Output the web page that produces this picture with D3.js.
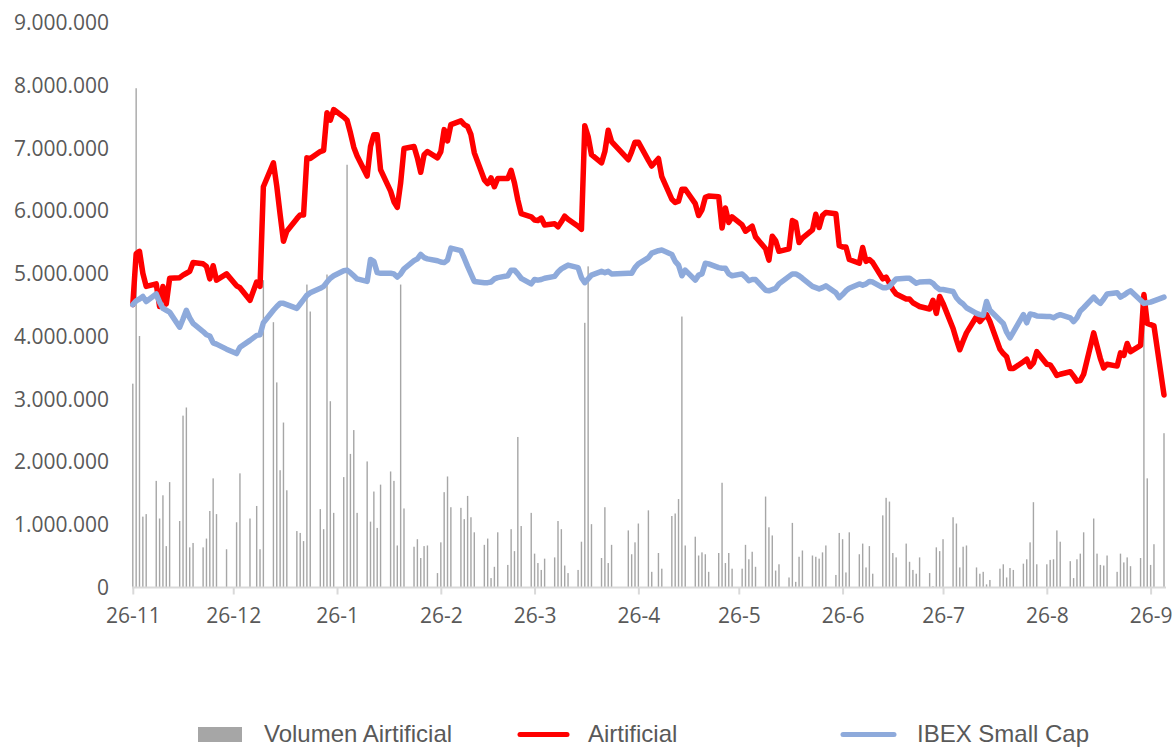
<!DOCTYPE html>
<html>
<head>
<meta charset="utf-8">
<script src="https://cdn.jsdelivr.net/npm/d3@7"></script>
<style>
  body { margin: 0; background: #fff; }
</style>
</head>
<body>
<svg id="chart"></svg>
<script>
// trading days 26-11-2018 .. 30-09-2019 (weekdays minus market holidays)
var firstDay = '2018-11-26'
var lastDay = '2019-09-30'
var holidays = ['2018-12-25', '2018-12-26', '2019-01-01', '2019-04-19', '2019-04-22', '2019-05-01']

// millions
var volumen = [
  3.25, 7.96, 4.01, 1.13, 1.17,
  1.70, 1.10, 1.47, 0.66, 1.68,
  1.06, 2.74, 2.87, 0.64, 0.71,
  0.64, 0.78, 1.22, 1.74, 1.17,
  0.61, 1.04, 1.82,
  1.10, 1.30, 0.61, 4.90,
  4.23, 3.27, 1.87, 2.63, 1.55,
  0.90, 0.87, 0.74, 4.83, 4.40,
  1.25, 0.93, 4.99, 2.97, 1.19,
  1.76, 6.74, 2.13, 2.51, 1.19,
  2.01, 1.05, 1.53, 0.95, 1.64,
  1.85, 1.70, 0.67, 4.83, 1.26,
  0.65, 0.77, 0.47, 0.66, 0.67,
  0.23, 0.72, 1.52, 1.77, 1.28,
  1.27, 1.09, 1.46, 1.12, 0.88,
  0.68, 0.78, 0.15, 0.33, 0.88,
  0.36, 0.93, 0.58, 2.40, 0.98,
  1.19, 0.54, 0.39, 0.28, 0.46,
  0.48, 1.06, 0.93, 0.35, 0.23,
  0.28, 0.73, 4.22, 5.12, 1.01,
  0.47, 1.28, 0.39, 0.68,
  0.91, 0.53, 0.72, 1.02,
  1.23, 0.25, 0.55, 0.30,
  1.14, 1.18, 1.41, 4.32, 0.67,
  0.81, 0.51, 0.56, 0.53, 0.25,
  0.55, 1.67, 0.39, 0.55, 0.30,
  0.30, 0.68, 0.45, 0.57, 0.33,
  1.45, 0.96, 0.83, 0.27, 0.37,
  0.16, 1.03, 0.09, 0.49, 0.59,
  0.51, 0.49, 0.46, 0.56, 0.67,
  0.20, 0.87, 0.77, 0.24, 0.88,
  0.53, 0.70, 0.32, 0.66, 0.22,
  1.15, 1.43, 1.37, 0.55, 0.48,
  0.70, 0.41, 0.28, 0.22, 0.48,
  0.23, 0.02, 0.64, 0.58, 0.77,
  1.12, 1.02, 0.32, 0.65, 0.67,
  0.32, 0.22, 0.25, 0.05, 0.12,
  0.30, 0.37, 0.16, 0.31, 0.28,
  0.38, 0.45, 0.72, 1.36, 0.37,
  0.37, 0.44, 0.45, 0.91, 0.73,
  0.42, 0.15, 0.45, 0.54, 0.88,
  1.10, 0.54, 0.36, 0.35, 0.51,
  0.25, 0.54, 0.40, 0.48, 0.34,
  0.47, 4.65, 1.74, 0.36, 0.69,
  2.46
]

var airtificial = [
  4.51, 5.32, 5.36, 5.01, 4.80,
  4.84, 4.48, 4.80, 4.52, 4.93,
  4.94, 4.98, 5.01, 5.04, 5.18,
  5.16, 5.12, 4.92, 5.13, 4.90,
  5.00, 4.81, 4.78,
  4.58, 4.87, 4.80, 6.39,
  6.77, 6.40, 5.95, 5.52, 5.68,
  5.88, 5.94, 5.94, 6.85, 6.84,
  6.95, 6.97, 7.57, 7.45, 7.62,
  7.50, 7.45, 7.25, 7.02, 6.88,
  6.56, 7.03, 7.22, 7.22, 6.66,
  6.32, 6.15, 6.06, 6.45, 7.00,
  7.03, 6.85, 6.62, 6.90, 6.95,
  6.85, 6.95, 7.30, 7.12, 7.38,
  7.44, 7.38, 7.35, 7.22, 6.93,
  6.50, 6.44, 6.53, 6.39, 6.52,
  6.52, 6.65, 6.45, 6.18, 5.96,
  5.91, 5.86, 5.85, 5.89, 5.78,
  5.80, 5.75, 5.83, 5.92, 5.87,
  5.76, 5.71, 7.36, 7.19, 6.90,
  6.77, 6.95, 7.29, 7.11,
  6.82, 6.95, 7.10, 7.10,
  6.81, 6.72, 6.84, 6.55,
  6.19, 6.14, 6.16, 6.35, 6.35,
  6.12, 5.93, 6.02, 6.22, 6.24,
  6.23, 5.73, 6.05, 5.82, 5.91,
  5.78, 5.68, 5.72, 5.76, 5.59,
  5.40, 5.22, 5.60, 5.53, 5.36,
  5.40, 5.85, 5.82, 5.50, 5.57,
  5.70, 5.95, 5.74, 5.93, 5.98,
  5.96, 5.45, 5.43, 5.43, 5.23,
  5.17, 5.42, 5.20, 5.23, 5.18,
  4.92, 4.95, 4.85, 4.75, 4.68,
  4.60, 4.60, 4.54, 4.51, 4.48,
  4.44, 4.58, 4.37, 4.64, 4.53,
  4.13, 3.95, 3.79, 3.93, 4.06,
  4.32, 4.24, 4.30, 4.35, 4.24,
  3.80, 3.73, 3.68, 3.49, 3.49,
  3.60, 3.64, 3.52, 3.58, 3.76,
  3.56, 3.55, 3.47, 3.38, 3.40,
  3.44, 3.37, 3.29, 3.30, 3.40,
  4.06, 3.85, 3.65, 3.50, 3.56,
  3.53, 3.74, 3.70, 3.89, 3.76,
  3.86, 4.67, 4.21, 4.19, 4.17,
  3.07
]

var ibexSmallCap = [
  4.51, 4.57, 4.60, 4.64, 4.56,
  4.68, 4.55, 4.45, 4.42, 4.39,
  4.15, 4.28, 4.42, 4.30, 4.21,
  4.08, 4.03, 4.01, 3.90, 3.88,
  3.80, 3.73, 3.83,
  3.94, 4.02, 4.03, 4.22,
  4.42, 4.48, 4.53, 4.53, 4.51,
  4.45, 4.52, 4.59, 4.66, 4.70,
  4.77, 4.80, 4.87, 4.93, 4.97,
  5.05, 5.06, 5.02, 4.97, 4.92,
  4.88, 5.23, 5.20, 5.02, 5.01,
  5.01, 5.00, 4.95, 5.00, 5.08,
  5.21, 5.24, 5.31, 5.26, 5.24,
  5.21, 5.19, 5.18, 5.22, 5.41,
  5.37, 5.25, 5.12, 5.00, 4.88,
  4.86, 4.86, 4.87, 4.92, 4.94,
  4.97, 5.06, 5.06, 5.00, 4.93,
  4.84, 4.91, 4.90, 4.91, 4.93,
  4.96, 5.03, 5.08, 5.11, 5.14,
  5.10, 4.94, 4.86, 4.92, 4.98,
  5.04, 5.02, 5.04, 5.00,
  5.01, 5.01, 5.10, 5.16,
  5.26, 5.33, 5.37, 5.38,
  5.31, 5.20, 5.14, 4.97, 5.06,
  4.90, 4.98, 5.00, 5.17, 5.16,
  5.10, 5.09, 5.09, 5.00, 4.97,
  5.00, 4.95, 4.89, 4.91, 4.91,
  4.74, 4.73, 4.75, 4.77, 4.84,
  4.96, 5.00, 5.00, 4.97, 4.93,
  4.80, 4.78, 4.76, 4.78, 4.81,
  4.70, 4.62, 4.67, 4.73, 4.77,
  4.84, 4.82, 4.84, 4.88, 4.87,
  4.78, 4.78, 4.80, 4.86, 4.92,
  4.93, 4.93, 4.89, 4.85, 4.87,
  4.88, 4.85, 4.79, 4.75, 4.75,
  4.72, 4.62, 4.56, 4.52, 4.46,
  4.37, 4.35, 4.34, 4.56, 4.42,
  4.26, 4.21, 4.07, 3.98, 4.07,
  4.35, 4.22, 4.36, 4.35, 4.33,
  4.32, 4.32, 4.30, 4.33, 4.35,
  4.30, 4.24, 4.30, 4.41, 4.46,
  4.63, 4.57, 4.53, 4.60, 4.68,
  4.70, 4.63, 4.66, 4.70, 4.73,
  4.58, 4.53, 4.54, 4.55, 4.57,
  4.63
]

var yTicks = [0, 1, 2, 3, 4, 5, 6, 7, 8, 9]
var xTickMonths = ['2018-11-26', '2018-12-26', '2019-01-26', '2019-02-26', '2019-03-26', '2019-04-26',
  '2019-05-26', '2019-06-26', '2019-07-26', '2019-08-26', '2019-09-26']
var seriesNames = ['Volumen Airtificial', 'Airtificial', 'IBEX Small Cap']

var M = 1000000
var parse = d3.timeParse('%Y-%m-%d')
var fmtDay = d3.timeFormat('%Y-%m-%d')

var dates = []
d3.timeDay.range(parse(firstDay), d3.timeDay.offset(parse(lastDay), 1)).forEach(function (d) {
  var wd = d.getDay()
  if (wd === 0 || wd === 6) return
  if (holidays.indexOf(fmtDay(d)) >= 0) return
  dates.push(d)
})

var data = dates.map(function (d, i) {
  return { date: d, vol: volumen[i] * M, air: airtificial[i] * M, ibex: ibexSmallCap[i] * M }
})

var width = 1176
var height = 747

var svg = d3.select('#chart').attr('width', width).attr('height', height)
svg.append('rect').attr('width', width).attr('height', height).attr('fill', '#fff')

var x = d3.scaleTime()
  .domain([parse(firstDay), parse(lastDay)])
  .range([132.8, 1164])

var y = d3.scaleLinear()
  .domain([0, 9 * M])
  .range([587.5, 23])

var es = d3.formatLocale({ decimal: ',', thousands: '.', grouping: [3], currency: ['', '€'] })
var fmtY = es.format(',')

// y labels
var yAxis = svg.append('g')
  .attr('transform', 'translate(109,0)')
  .call(d3.axisLeft(y).tickValues(yTicks.map(function (v) { return v * M })).tickSize(0).tickPadding(0).tickFormat(fmtY))
yAxis.select('.domain').remove()
yAxis.selectAll('text')
  .attr('font-family', '"Open Sans", sans-serif')
  .attr('font-size', 21)
  .attr('fill', '#595959')

// volume bars
svg.append('g')
  .selectAll('rect')
  .data(data)
  .join('rect')
  .attr('x', function (d) { return x(d.date) - 0.7 })
  .attr('width', 1.4)
  .attr('y', function (d) { return y(d.vol) })
  .attr('height', function (d) { return y(0) - y(d.vol) })
  .attr('fill', '#a6a6a6')

// x axis
var xAxis = svg.append('g')
  .attr('transform', 'translate(0,' + y(0) + ')')
  .call(d3.axisBottom(x)
    .tickValues(xTickMonths.map(parse))
    .tickSize(7)
    .tickSizeOuter(0)
    .tickPadding(14)
    .tickFormat(d3.timeFormat('%d-%-m')))
xAxis.select('.domain')
  .attr('d', 'M132,0H1166')
  .attr('stroke', '#d9d9d9')
  .attr('stroke-width', 2)
xAxis.selectAll('.tick line').attr('stroke', '#d9d9d9').attr('stroke-width', 2)
xAxis.selectAll('text')
  .attr('font-family', '"Open Sans", sans-serif')
  .attr('font-size', 21)
  .attr('fill', '#595959')

var lineAir = d3.line()
  .x(function (d) { return x(d.date) })
  .y(function (d) { return y(d.air) })
var lineIbex = d3.line()
  .x(function (d) { return x(d.date) })
  .y(function (d) { return y(d.ibex) })

svg.append('path')
  .datum(data)
  .attr('d', lineAir)
  .attr('fill', 'none')
  .attr('stroke', '#ff0000')
  .attr('stroke-width', 5.5)
  .attr('stroke-linejoin', 'round')
  .attr('stroke-linecap', 'round')

svg.append('path')
  .datum(data)
  .attr('d', lineIbex)
  .attr('fill', 'none')
  .attr('stroke', '#8eaadb')
  .attr('stroke-width', 5.5)
  .attr('stroke-linejoin', 'round')
  .attr('stroke-linecap', 'round')

// legend
var legend = svg.append('g')
  .attr('font-family', '"Liberation Sans", Arial, sans-serif')
  .attr('font-size', 24)
  .attr('fill', '#595959')

legend.append('rect').attr('x', 198).attr('y', 727).attr('width', 44).attr('height', 15).attr('fill', '#a6a6a6')
legend.append('text').attr('x', 264).attr('y', 741.5).text(seriesNames[0])

legend.append('line').attr('x1', 520).attr('x2', 567).attr('y1', 734.5).attr('y2', 734.5)
  .attr('stroke', '#ff0000').attr('stroke-width', 5).attr('stroke-linecap', 'round')
legend.append('text').attr('x', 588).attr('y', 741.5).text(seriesNames[1])

legend.append('line').attr('x1', 843).attr('x2', 894).attr('y1', 734.5).attr('y2', 734.5)
  .attr('stroke', '#8eaadb').attr('stroke-width', 5).attr('stroke-linecap', 'round')
legend.append('text').attr('x', 917).attr('y', 741.5).text(seriesNames[2])
</script>
</body>
</html>
